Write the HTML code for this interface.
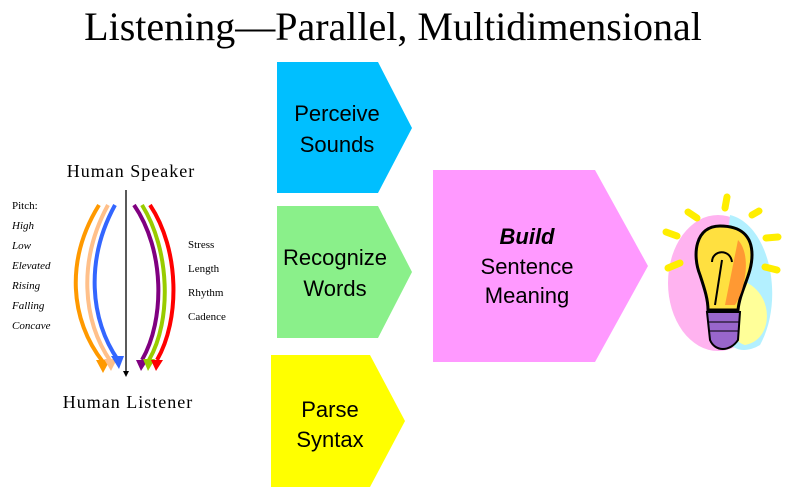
<!DOCTYPE html>
<html><head><style>
body{margin:0;background:#fff;}
</style></head><body>
<svg width="800" height="497" viewBox="0 0 800 497" xmlns="http://www.w3.org/2000/svg" font-family="Liberation Serif, serif">
<text x="393" y="40" font-size="40" text-anchor="middle" fill="#000">Listening—Parallel, Multidimensional</text>
<polygon points="277,62 378,62 412,128 378,193 277,193" fill="#00BFFF"/>
<polygon points="277,206 378,206 412,272 378,338 277,338" fill="#8AF08A"/>
<polygon points="271,355 370,355 405,421 370,487 271,487" fill="#FFFF00"/>
<polygon points="433,170 595,170 648,266 595,362 433,362" fill="#FF99FF"/>
<g font-family="Liberation Sans, sans-serif" font-size="22" text-anchor="middle" fill="#000">
<text x="337" y="121">Perceive</text><text x="337" y="152">Sounds</text>
<text x="335" y="265">Recognize</text><text x="335" y="296">Words</text>
<text x="330" y="417">Parse</text><text x="330" y="447">Syntax</text>
<text x="527" y="244" font-weight="bold" font-style="italic">Build</text>
<text x="527" y="274">Sentence</text><text x="527" y="303">Meaning</text>
</g>
<g font-size="18" text-anchor="middle" fill="#000" letter-spacing="1">
<text x="131" y="177">Human Speaker</text>
<text x="128" y="408">Human Listener</text>
</g>
<g font-size="11" fill="#000">
<text x="12" y="209">Pitch:</text>
<g font-style="italic"><text x="12" y="229">High</text><text x="12" y="249">Low</text><text x="12" y="269">Elevated</text><text x="12" y="289">Rising</text><text x="12" y="309">Falling</text><text x="12" y="329">Concave</text></g>
<text x="188" y="248">Stress</text><text x="188" y="272">Length</text><text x="188" y="296">Rhythm</text><text x="188" y="320">Cadence</text>
</g>
<line x1="126" y1="190" x2="126" y2="372" stroke="#000" stroke-width="1.3"/>
<polygon points="123,371 129,371 126,377" fill="#000"/>
<g fill="none" stroke-width="4">
<path d="M99,205 C65,260 70,320 103,362" stroke="#FF9900"/>
<path d="M108,205 C78,260 82,320 111,362" stroke="#FFC08A"/>
<path d="M115,205 C85,260 90,320 118,360" stroke="#3366FF"/>
<path d="M134,205 C165,250 165,320 142,360" stroke="#800080"/>
<path d="M142,205 C170,250 172,320 149,360" stroke="#99CC00"/>
<path d="M150,205 C180,250 180,320 157,360" stroke="#FF0000"/>
</g>
<polygon points="96,360 110,360 103,373" fill="#FF9900"/>
<polygon points="104,359 117,359 111,371" fill="#FFC08A"/>
<polygon points="111,356 124,356 119,369" fill="#3366FF"/>
<polygon points="136,360 148,360 141,371" fill="#800080"/>
<polygon points="143,359 155,359 148,371" fill="#99CC00"/>
<polygon points="151,360 163,360 156,371" fill="#FF0000"/>
<!-- bulb -->
<ellipse cx="718" cy="283" rx="50" ry="68" fill="#FFB3F0"/>
<path d="M730,215 C770,225 785,300 760,345 C735,360 715,340 720,300 Z" fill="#B3F0FF"/>
<path d="M740,280 C775,290 775,340 745,345 C725,340 725,300 740,280Z" fill="#FFFF99"/>
<g stroke="#FFEE00" stroke-width="7" stroke-linecap="round">
<line x1="727" y1="197" x2="725" y2="208"/><line x1="688" y1="212" x2="697" y2="218"/>
<line x1="666" y1="232" x2="677" y2="236"/><line x1="752" y1="215" x2="759" y2="211"/>
<line x1="766" y1="238" x2="778" y2="237"/><line x1="668" y1="268" x2="680" y2="263"/>
<line x1="765" y1="267" x2="777" y2="270"/>
</g>
<path d="M720,226 C695,226 692,255 700,275 C705,290 708,300 708,310 L738,310 C740,290 752,275 752,255 C752,235 740,226 720,226Z" fill="#FFE040" stroke="#000" stroke-width="3"/>
<path d="M738,240 C752,255 745,290 735,305 L725,305 Z" fill="#FF9933"/>
<path d="M715,305 L722,260 M712,262 C712,250 730,248 732,262" stroke="#000" stroke-width="2" fill="none"/>
<path d="M707,312 L740,312 L738,340 C730,352 715,352 710,340Z" fill="#9966CC" stroke="#000" stroke-width="2"/>
<line x1="708" y1="322" x2="739" y2="322" stroke="#000"/><line x1="709" y1="331" x2="738" y2="331" stroke="#000"/>
</svg>
</body></html>
